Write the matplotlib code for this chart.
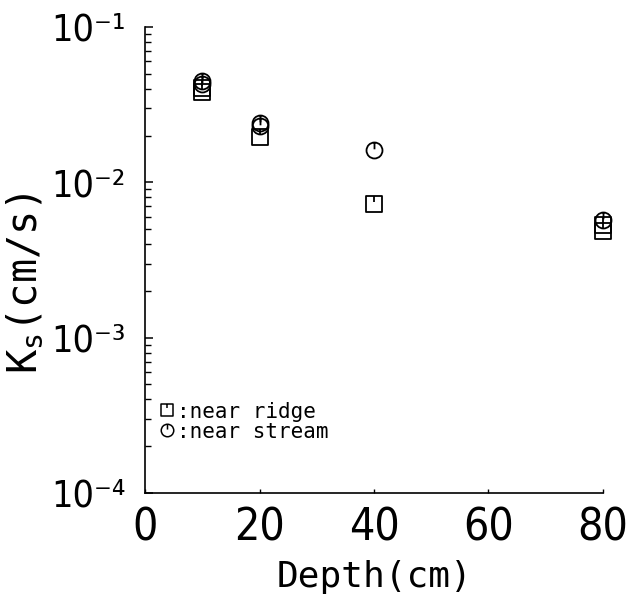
import matplotlib
matplotlib.use('Agg')
import matplotlib.pyplot as plt
from matplotlib.path import Path
from matplotlib.lines import Line2D
from matplotlib import font_manager

# ---- data ----
ridge_depth = [10, 10, 20, 40, 80, 80]
ridge_ks = [0.0405, 0.0381, 0.0196, 0.00724, 0.00531, 0.00485]
stream_depth = [10, 10, 20, 20, 40, 80]
stream_ks = [0.0449, 0.0430, 0.0241, 0.0231, 0.0161, 0.00571]
xticks = [0, 20, 40, 60, 80]
xtick_labels = ['0', '20', '40', '60', '80']
yticks = [1e-4, 1e-3, 1e-2, 1e-1]
ytick_labels = ['10\u207b\u2074', '10\u207b\u00b3', '10\u207b\u00b2', '10\u207b\u00b9']
legend_labels = [':near ridge', ':near stream']

# look for a condensed sans font
cond = None
for f in font_manager.fontManager.ttflist:
    if f.stretch in ('condensed', 'semi-condensed', 'extra-condensed') and f.style == 'normal' \
            and f.weight in (300, 400, 'normal', 'light'):
        cond = f
        if 'DejaVu Sans' == f.name:
            break
if cond is not None:
    narrow_fp = font_manager.FontProperties(fname=cond.fname)
else:
    narrow_fp = font_manager.FontProperties(family='DejaVu Sans')
mono = 'DejaVu Sans Mono'

plt.rcParams['mathtext.fontset'] = 'custom'
plt.rcParams['mathtext.tt'] = mono
plt.rcParams['mathtext.rm'] = mono
plt.rcParams['font.family'] = ['DejaVu Sans']

# ---- custom markers ----
sq_marker = Path([(-1, -1), (1, -1), (1, 1), (-1, 1), (-1, -1), (0, 1), (0, 0.3)],
                 [Path.MOVETO, Path.LINETO, Path.LINETO, Path.LINETO, Path.CLOSEPOLY,
                  Path.MOVETO, Path.LINETO])
circ_marker = Path.make_compound_path(Path.unit_circle(),
                                      Path([(0, 1), (0, 0.15)], [Path.MOVETO, Path.LINETO]))

fig = plt.figure(figsize=(6.27, 5.99), dpi=100)
ax = fig.add_axes([0.2313, 0.177, 0.7304, 0.778])

ax.plot(ridge_depth, ridge_ks, linestyle='none', marker=sq_marker, markersize=11.5,
        markerfacecolor='none', markeredgecolor='black', markeredgewidth=1.3, clip_on=False)
ax.plot(stream_depth, stream_ks, linestyle='none', marker=circ_marker, markersize=11.5,
        markerfacecolor='none', markeredgecolor='black', markeredgewidth=1.3, clip_on=False)

ax.set_yscale('log')
ax.set_xlim(0, 80)
ax.set_ylim(1e-4, 1e-1)
ax.set_xticks(xticks, xtick_labels)
ax.set_yticks(yticks, ytick_labels)

for s in ['top', 'right']:
    ax.spines[s].set_visible(False)
for s in ['left', 'bottom']:
    ax.spines[s].set_linewidth(1.2)

ax.tick_params(axis='y', which='major', direction='in', length=6, width=1.1, pad=14)
ax.tick_params(axis='y', which='minor', direction='in', length=4, width=1.0)
ax.tick_params(axis='x', which='major', direction='in', length=3, width=1.0, pad=10)
for lab in ax.get_xticklabels():
    lab.set_fontproperties(narrow_fp)
    lab.set_fontsize(32)
for lab in ax.get_yticklabels():
    lab.set_fontproperties(narrow_fp)
    lab.set_fontsize(27)

ax.set_xlabel('Depth(cm)', fontfamily=mono, fontsize=26, labelpad=7)
ax.set_ylabel(r'K$_\mathtt{s}$(cm/s)', fontfamily=mono, fontsize=29)
ax.yaxis.set_label_coords(-0.218, 0.45)

handles = [
    Line2D([], [], linestyle='none', marker=sq_marker, markersize=9, markerfacecolor='none',
           markeredgecolor='black', markeredgewidth=1.1),
    Line2D([], [], linestyle='none', marker=circ_marker, markersize=9, markerfacecolor='none',
           markeredgecolor='black', markeredgewidth=1.1),
]
ax.legend(handles, legend_labels, loc='lower left', bbox_to_anchor=(0.035, 0.11),
          frameon=False, borderpad=0, borderaxespad=0, handlelength=0.6, handletextpad=0.15,
          labelspacing=0.0, prop={'family': mono, 'size': 15})

fig.savefig('out.png', dpi=100)
